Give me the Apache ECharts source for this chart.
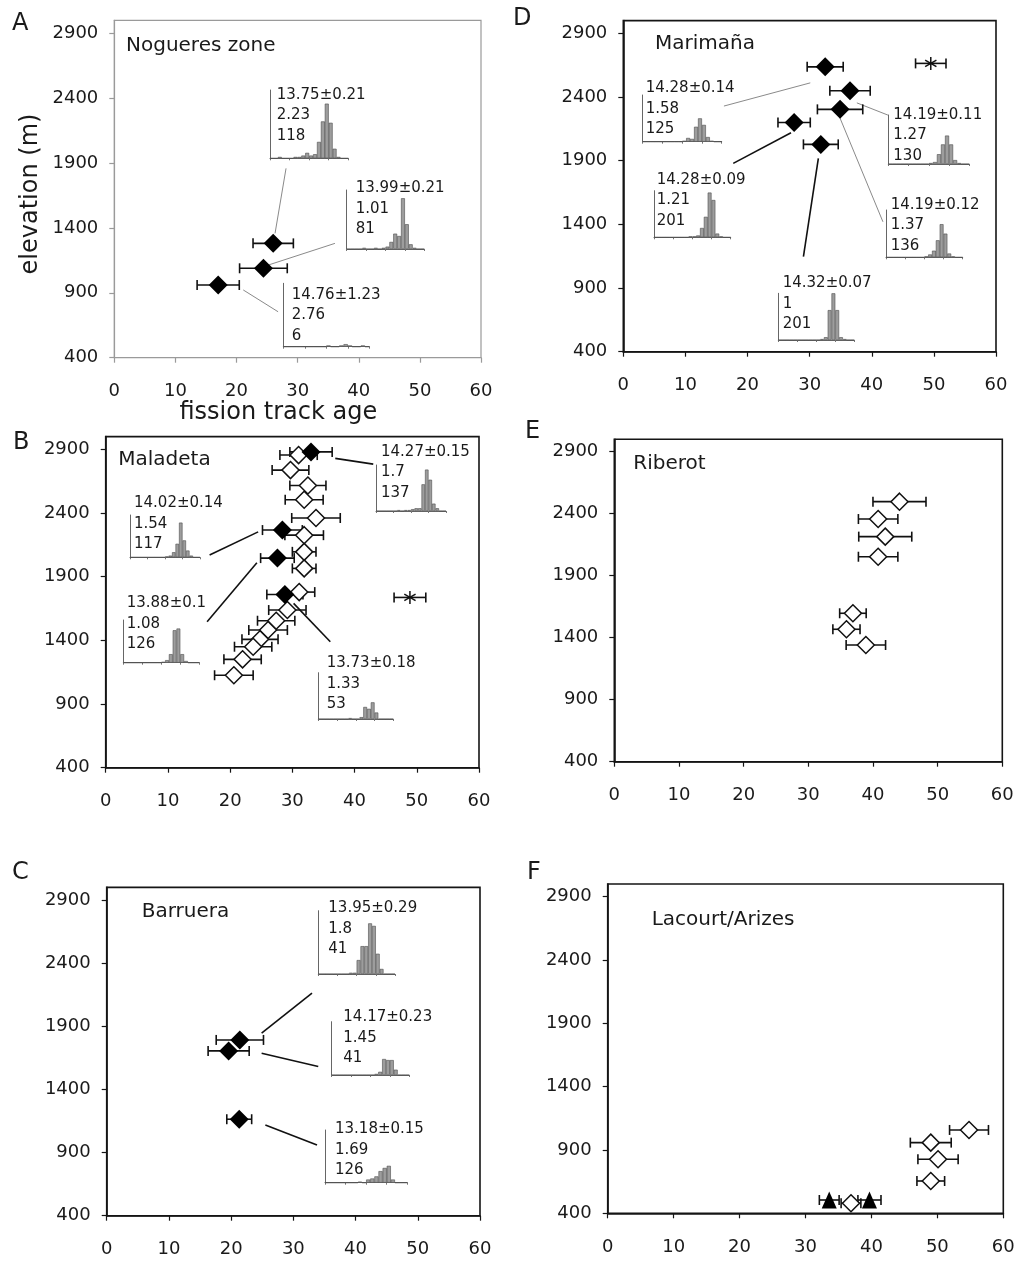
<!DOCTYPE html>
<html><head><meta charset="utf-8">
<script src="https://cdn.jsdelivr.net/npm/echarts@6/dist/echarts.min.js"></script>
<style>html,body{margin:0;padding:0;background:#fff}#c{width:1018px;height:1261px}</style>
</head><body><div id="c"></div>
<script>
// ---------- axis ticks ----------
const xTicks = [0, 10, 20, 30, 40, 50, 60];
const yTicks = [400, 900, 1400, 1900, 2400, 2900];
const lengthBins = ['0','1','2','3','4','5','6','7','8','9','10','11','12','13','14','15','16','17','18','19'];

// ---------- main data: [age (Ma), elevation (m), error (Ma)] ----------
// A  Nogueres zone
const nogueresFilled = [[26.0,1281,3.3],[24.4,1089,3.9],[17.0,960,3.45]];
const nogueresLinksThin = [[26.3,1358,28.1,1859],[25.2,1114,36.1,1281],[21.1,922,26.8,754]];
// D  Marimaña
const marimanaFilled = [[32.5,2637,2.9],[36.5,2449,3.25],[34.9,2303,3.65],[27.5,2200,2.6],[31.8,2028,2.8]];
const marimanaStar = [[49.5,2664,2.45]];
const marimanaLinksThin = [[30.1,2511,16.2,2329],[37.6,2354,42.6,2258],[34.8,2245,41.8,1420]];
const marimanaLinksBold = [[27.0,2119,17.7,1879],[31.4,1918,29.0,1146]];
// B  Maladeta
const maladetaOpen = [[31.0,2855,3.0],[29.7,2737,2.95],[32.5,2616,2.9],[31.9,2504,3.05],[33.8,2361,3.9],
  [31.9,2226,3.1],[31.9,2095,1.9],[31.9,1965,1.9],[31.1,1779,2.5],[29.2,1638,3.0],[27.4,1554,3.0],
  [26.1,1481,3.1],[24.8,1408,2.9],[23.7,1350,3.0],[22.0,1251,3.0],[20.6,1126,3.1]];
const maladetaFilled = [[33.0,2880,3.4],[28.4,2266,3.2],[27.6,2046,2.7],[28.8,1760,2.9]];
const maladetaStar = [[48.9,1737,2.55]];
const maladetaLinksBold = [[36.9,2829,43.0,2784],[24.5,2252,16.7,2070],[24.3,2009,16.3,1546],[30.2,1690,36.1,1389]];
// E  Riberot
const riberotOpen = [[44.1,2497,4.1],[40.8,2357,3.05],[41.9,2215,4.1],[40.8,2053,3.05],[36.9,1597,2.05],[35.9,1468,2.1],[38.9,1341,3.05]];
// C  Barruera
const barrueraFilled = [[21.4,1792,3.8],[19.6,1705,3.3],[21.3,1164,2.0]];
const barrueraLinksBold = [[24.9,1845,33.0,2162],[24.9,1687,34.0,1581],[25.5,1119,33.8,960]];
// F  Lacourt/Arizes
const lacourtOpen = [[54.8,1058,2.95],[49.0,958,3.1],[50.1,827,3.05],[49.0,655,2.1],[36.9,479,1.5]];
const lacourtTriangle = [[33.6,505,1.5],[39.7,505,1.75]];

// ---------- inset track-length histograms (1 µm bins, 0-20 µm) ----------
const histA1 = [0,0,1,0,0,0,1,1,2,4,2,3,12,27,40,26,7,1,0,0];
const histA2 = [0,0,0,0,1,0,0,1,0,1,2,6,13,11,43,21,4,1,0,0];
const histA3 = [0,0,0,0,0,0,0,0,0,0,1,0,0,1,2,1,0,0,1,0];
const histD1 = [0,0,0,0,0,0,0,0,0,0,1,4,3,16,25,18,5,1,0,0];
const histD2 = [0,0,0,0,0,0,0,0,0,1,1,2,10,22,48,40,4,1,0,0];
const histD3 = [0,0,0,0,0,0,0,0,0,0,1,2,10,20,29,20,4,1,0,0];
const histD4 = [0,0,0,0,0,0,0,0,0,0,1,3,7,18,35,25,4,1,0,0];
const histD5 = [0,0,0,0,0,0,0,0,0,0,0,1,3,32,50,32,3,1,0,0];
const histB1 = [0,0,0,0,0,0,1,0,1,1,2,3,3,29,45,34,8,3,0,0];
const histB2 = [0,0,0,0,0,0,0,0,0,0,1,2,6,16,41,20,8,2,0,0];
const histB3 = [0,0,0,0,0,0,0,0,0,0,1,3,10,38,40,10,2,0,0,0];
const histB4 = [0,0,0,0,0,0,0,0,1,0,0,2,13,11,18,7,0,0,0,0];
const histC1 = [0,0,0,0,0,0,0,0,1,1,11,22,22,40,38,16,4,0,0,0];
const histC2 = [0,0,0,0,0,0,0,0,0,0,0,1,3,15,14,14,5,0,0,0];
const histC3 = [0,0,0,0,0,0,0,0,1,0,3,4,6,11,14,16,3,0,0,0];
// mean length ± s.e., std dev, number of tracks
const statsA1 = ['13.75±0.21','2.23','118'];
const statsA2 = ['13.99±0.21','1.01','81'];
const statsA3 = ['14.76±1.23','2.76','6'];
const statsD1 = ['14.28±0.14','1.58','125'];
const statsD2 = ['14.28±0.09','1.21','201'];
const statsD3 = ['14.19±0.11','1.27','130'];
const statsD4 = ['14.19±0.12','1.37','136'];
const statsD5 = ['14.32±0.07','1','201'];
const statsB1 = ['14.27±0.15','1.7','137'];
const statsB2 = ['14.02±0.14','1.54','117'];
const statsB3 = ['13.88±0.1','1.08','126'];
const statsB4 = ['13.73±0.18','1.33','53'];
const statsC1 = ['13.95±0.29','1.8','41'];
const statsC2 = ['14.17±0.23','1.45','41'];
const statsC3 = ['13.18±0.15','1.69','126'];

// ---------- layout (pixels) ----------
const FONT = '"DejaVu Sans"';
const panels = [
  {letter:'A', name:'Nogueres zone', grid:{left:114.3,top:20.3,width:366.7,height:337.4}, frame:'#9a9a9a', fw:1.2, nameXY:[126,46], letterXY:[12,24],
   filled:nogueresFilled, open:[], star:[], tri:[], thin:nogueresLinksThin, bold:[]},
  {letter:'D', name:'Marimaña', grid:{left:623.3,top:20.6,width:372.7,height:331.1}, frame:'#151515', fw:1.6, nameXY:[655,43.3], letterXY:[513,19],
   filled:marimanaFilled, open:[], star:marimanaStar, tri:[], thin:marimanaLinksThin, bold:marimanaLinksBold},
  {letter:'B', name:'Maladeta', grid:{left:105.7,top:436.6,width:373.3,height:331.1}, frame:'#151515', fw:1.6, nameXY:[118.3,460], letterXY:[13,443],
   filled:maladetaFilled, open:maladetaOpen, star:maladetaStar, tri:[], thin:[], bold:maladetaLinksBold},
  {letter:'E', name:'Riberot', grid:{left:614.3,top:439.3,width:388,height:322.4}, frame:'#151515', fw:1.6, nameXY:[633.3,463.3], letterXY:[525,432],
   filled:[], open:riberotOpen, star:[], tri:[], thin:[], bold:[]},
  {letter:'C', name:'Barruera', grid:{left:106.7,top:887.4,width:373.3,height:328.3}, frame:'#151515', fw:1.6, nameXY:[141.7,911.7], letterXY:[12,872.5],
   filled:barrueraFilled, open:[], star:[], tri:[], thin:[], bold:barrueraLinksBold},
  {letter:'F', name:'Lacourt/Arizes', grid:{left:607.7,top:884,width:395.6,height:329.3}, frame:'#151515', fw:1.6, nameXY:[651.7,920], letterXY:[527,873],
   filled:[], open:lacourtOpen, star:[], tri:lacourtTriangle, thin:[], bold:[]}
];
const insets = [
  {hist:histA1, stats:statsA1, box:{left:270,top:90,width:78.3,height:68.3}, txt:[276.7,95]},
  {hist:histA2, stats:statsA2, box:{left:346.7,top:190,width:77.6,height:59}, txt:[355.7,188.5]},
  {hist:histA3, stats:statsA3, box:{left:283.3,top:283.3,width:86,height:63.4}, txt:[291.7,295]},
  {hist:histD1, stats:statsD1, box:{left:642.7,top:95,width:79,height:46.7}, txt:[645.7,88.5]},
  {hist:histD2, stats:statsD2, box:{left:654,top:190.7,width:76.7,height:46.6}, txt:[656.7,180]},
  {hist:histD3, stats:statsD3, box:{left:888.3,top:115,width:81,height:49}, txt:[893.3,115]},
  {hist:histD4, stats:statsD4, box:{left:886,top:210,width:76.7,height:47.3}, txt:[890.7,205]},
  {hist:histD5, stats:statsD5, box:{left:778.3,top:293.3,width:76,height:46.7}, txt:[782.7,283.3]},
  {hist:histB1, stats:statsB1, box:{left:376,top:465,width:70,height:46}, txt:[381,451.7]},
  {hist:histB2, stats:statsB2, box:{left:130,top:515,width:70,height:42.3}, txt:[134,503.3]},
  {hist:histB3, stats:statsB3, box:{left:123.3,top:620,width:76,height:42.7}, txt:[126.7,603.3]},
  {hist:histB4, stats:statsB4, box:{left:318.3,top:672.7,width:75,height:46.3}, txt:[326.7,663.3]},
  {hist:histC1, stats:statsC1, box:{left:318.3,top:910.7,width:76.7,height:63.3}, txt:[328.3,908.3]},
  {hist:histC2, stats:statsC2, box:{left:331.7,top:1021.7,width:77.6,height:53.3}, txt:[343.3,1017.3]},
  {hist:histC3, stats:statsC3, box:{left:325,top:1130,width:82.3,height:52.7}, txt:[335,1129.3]}
];

// ---------- render helpers ----------
const INK = '#111';
function errRender(params, api){
  const x = api.value(0), y = api.value(1), e = api.value(2);
  const a = api.coord([x - e, y]), b = api.coord([x + e, y]);
  const c = 5, st = {stroke: INK, lineWidth: 1.6};
  return {type:'group', children:[
    {type:'line', shape:{x1:a[0],y1:a[1],x2:b[0],y2:b[1]}, style:st},
    {type:'line', shape:{x1:a[0],y1:a[1]-c,x2:a[0],y2:a[1]+c}, style:st},
    {type:'line', shape:{x1:b[0],y1:b[1]-c,x2:b[0],y2:b[1]+c}, style:st}
  ]};
}
function starRender(params, api){
  const p = api.coord([api.value(0), api.value(1)]);
  const r = 6.5, st = {stroke: INK, lineWidth: 1.5};
  const ch = [];
  [90, 30, 150].forEach(function(d){
    const t = d * Math.PI / 180, dx = r * Math.cos(t), dy = r * Math.sin(t);
    ch.push({type:'line', shape:{x1:p[0]-dx,y1:p[1]-dy,x2:p[0]+dx,y2:p[1]+dy}, style:st});
  });
  return {type:'group', children:ch};
}
function linkRender(color, width){
  return function(params, api){
    const a = api.coord([api.value(0), api.value(1)]), b = api.coord([api.value(2), api.value(3)]);
    return {type:'line', shape:{x1:a[0],y1:a[1],x2:b[0],y2:b[1]}, style:{stroke:color, lineWidth:width}};
  };
}
const plain = function(v){ return String(v); };

const grids = [], xAxes = [], yAxes = [], series = [], graphics = [];
panels.forEach(function(p, i){
  grids.push(Object.assign({show:true, borderColor:p.frame, borderWidth:p.fw, backgroundColor:'transparent', outerBoundsMode:'none', containLabel:false}, p.grid));
  const lab = {fontSize:18, fontFamily:FONT, color:'#1a1a1a', formatter:plain};
  xAxes.push({gridIndex:i, type:'value', min:0, max:60, interval:10,
    axisLine:{show:true, onZero:false, lineStyle:{color:p.frame, width:p.fw}},
    axisTick:{show:true, length:5, customValues:xTicks, lineStyle:{color:p.frame, width:1.2}},
    axisLabel:Object.assign({margin:25, customValues:xTicks}, lab), splitLine:{show:false}});
  yAxes.push({gridIndex:i, type:'value', min:400, max:3000, interval:500,
    axisLine:{show:true, onZero:false, lineStyle:{color:p.frame, width:p.fw}},
    axisTick:{show:true, length:5, customValues:yTicks, lineStyle:{color:p.frame, width:1.2}},
    axisLabel:Object.assign({margin:16, customValues:yTicks}, lab), splitLine:{show:false}});
  const base = {xAxisIndex:i, yAxisIndex:i, silent:true, animation:false};
  if (p.thin.length) series.push(Object.assign({type:'custom', data:p.thin, renderItem:linkRender('#8a8a8a', 1), encode:{x:[0,2], y:[1,3]}, z:1}, base));
  if (p.bold.length) series.push(Object.assign({type:'custom', data:p.bold, renderItem:linkRender('#111', 1.6), encode:{x:[0,2], y:[1,3]}, z:1}, base));
  const allErr = [].concat(p.open, p.filled, p.star, p.tri);
  series.push(Object.assign({type:'custom', data:allErr, renderItem:errRender, encode:{x:0, y:1}, z:2}, base));
  if (p.open.length) series.push(Object.assign({type:'scatter', data:p.open, symbol:'diamond', symbolSize:17,
    itemStyle:{color:'#fff', borderColor:INK, borderWidth:1.5, opacity:1}, z:3}, base));
  if (p.filled.length) series.push(Object.assign({type:'scatter', data:p.filled, symbol:'diamond', symbolSize:19,
    itemStyle:{color:'#000', opacity:1}, z:4}, base));
  if (p.tri.length) series.push(Object.assign({type:'scatter', data:p.tri, symbol:'triangle', symbolSize:[15,17],
    itemStyle:{color:'#000', opacity:1}, z:4}, base));
  if (p.star.length) series.push(Object.assign({type:'custom', data:p.star, renderItem:starRender, encode:{x:0, y:1}, z:4}, base));
  graphics.push({type:'text', x:p.nameXY[0], y:p.nameXY[1], z:50, style:{text:p.name, font:'20px ' + FONT, fill:'#1a1a1a', align:'left', verticalAlign:'middle'}});
  graphics.push({type:'text', x:p.letterXY[0], y:p.letterXY[1], z:50, style:{text:p.letter, font:'24px ' + FONT, fill:'#1a1a1a', align:'left', verticalAlign:'middle'}});
});

insets.forEach(function(s, k){
  const gi = panels.length + k;
  grids.push(Object.assign({show:false, outerBoundsMode:'none', containLabel:false}, s.box));
  xAxes.push({gridIndex:gi, type:'category', data:lengthBins, boundaryGap:true,
    axisLine:{show:true, lineStyle:{color:'#666', width:1}},
    axisTick:{show:true, interval:4, length:2, lineStyle:{color:'#777', width:1}},
    axisLabel:{show:false}, splitLine:{show:false}});
  yAxes.push({gridIndex:gi, type:'value', min:0, max:50,
    axisLine:{show:true, onZero:false, lineStyle:{color:'#666', width:1}},
    axisTick:{show:false}, axisLabel:{show:false}, splitLine:{show:false}});
  series.push({type:'bar', xAxisIndex:gi, yAxisIndex:gi, data:s.hist, barCategoryGap:'0%', silent:true, animation:false,
    itemStyle:{color:'#9d9d9d', borderColor:'#4d4d4d', borderWidth:0.6}, z:5});
  s.stats.forEach(function(t, j){
    graphics.push({type:'text', x:s.txt[0], y:s.txt[1] + j * 20.5, z:50,
      style:{text:t, font:'15px ' + FONT, fill:'#1a1a1a', align:'left', verticalAlign:'middle'}});
  });
});

graphics.push({type:'text', x:30.7, y:194, rotation:Math.PI/2, z:50,
  style:{text:'elevation (m)', font:'24px ' + FONT, fill:'#1a1a1a', align:'center', verticalAlign:'middle'}});
graphics.push({type:'text', x:278.3, y:413, z:50,
  style:{text:'fission track age', font:'24px ' + FONT, fill:'#1a1a1a', align:'center', verticalAlign:'middle'}});

const chart = echarts.init(document.getElementById('c'), null, {renderer:'canvas'});
chart.setOption({
  animation:false,
  backgroundColor:'#fff',
  textStyle:{fontFamily:FONT},
  grid:grids, xAxis:xAxes, yAxis:yAxes, series:series, graphic:graphics
});
</script></body></html>
